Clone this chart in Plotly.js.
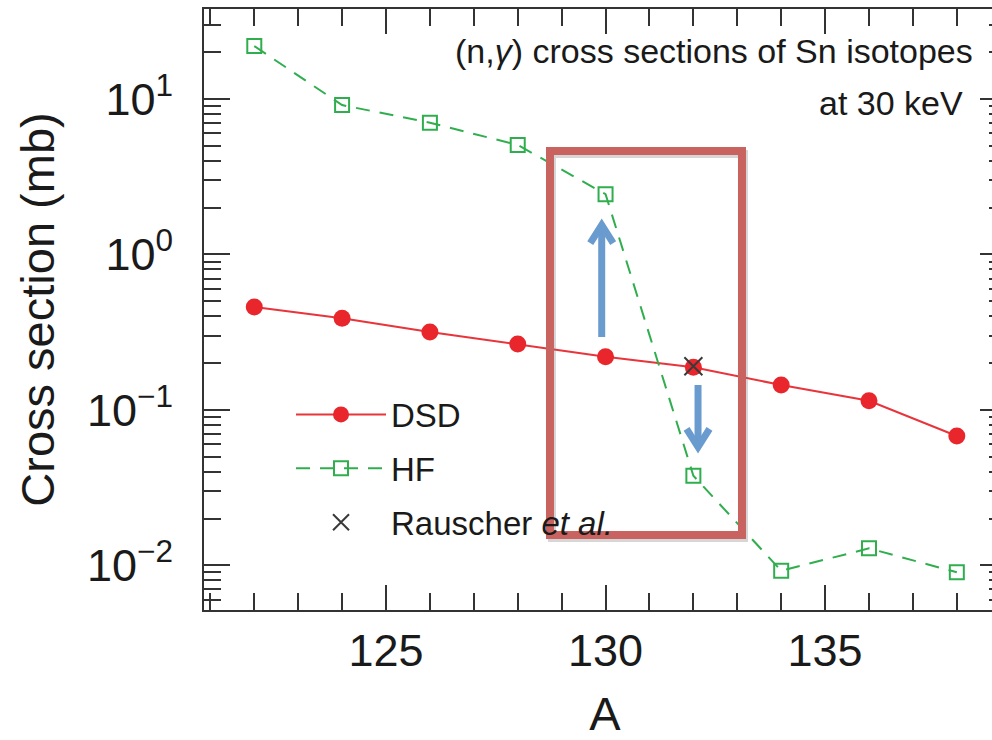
<!DOCTYPE html>
<html>
<head>
<meta charset="utf-8">
<script src="https://cdn.plot.ly/plotly-3.0.1.min.js"></script>
<style>
  html, body { margin: 0; padding: 0; overflow: hidden; background: #fff; }
  #chart { width: 1010px; height: 740px; }
</style>
</head>
<body>
<div id="chart"></div>
<script>
// ---- data ----
const massNumbers = [122, 124, 126, 128, 130, 132, 134, 136, 138];
const dsdValues   = [0.459, 0.388, 0.317, 0.265, 0.220, 0.188, 0.1445, 0.1145, 0.0679];
const hfValues    = [21.9, 9.14, 7.04, 5.06, 2.44, 0.0377, 0.00923, 0.01285, 0.00901];
const rauscherA   = [132];
const rauscherValues = [0.191];
const yTickValues = [0.01, 0.1, 1, 10];
const yTickLabels = ['10<sup>−2</sup>', '10<sup>−1</sup>', '10<sup>0</sup>', '10<sup>1</sup>'];
const xTickValues = [125, 130, 135];
const xTickLabels = ['125', '130', '135'];

const FONT = '"Liberation Sans", Arial, Helvetica, sans-serif';
const AXIS = '#333333';
const GREEN = '#30ae4e';
const BLUE = '#6a9bcf';

const traces = [
  {
    x: massNumbers, y: dsdValues, name: 'DSD', type: 'scatter', mode: 'lines+markers',
    line: { color: '#e8343a', width: 2 },
    marker: { color: '#e8262c', size: 17, symbol: 'circle' },
    legendgroup: 'a', legendrank: 1
  },
  {
    x: massNumbers, y: hfValues, name: 'HF', type: 'scatter', mode: 'lines+markers',
    line: { color: GREEN, width: 2, dash: '14px,10px' },
    marker: { color: GREEN, size: 14, symbol: 'square-open', line: { color: GREEN, width: 2 } },
    legendgroup: 'b', legendrank: 2
  },
  {
    x: rauscherA, y: rauscherValues, name: 'Rauscher <i>et al.</i>', type: 'scatter', mode: 'markers',
    marker: { color: '#3a3a3a', size: 18, symbol: 'x-thin-open', line: { color: '#3a3a3a', width: 2 } },
    legendgroup: 'c', legendrank: 3
  }
];

// arrow helper in paper coordinates (decoration only)
function arrowShapes(x, tailY, tipY) {
  const dir = tipY > tailY ? 1 : -1;
  const hw = 0.0143, hl = 0.030;
  return [
    { type: 'line', xref: 'paper', yref: 'paper', x0: x, x1: x, y0: tailY, y1: tipY - dir * 0.004,
      line: { color: BLUE, width: 7 }, layer: 'above' },
    { type: 'path', xref: 'paper', yref: 'paper',
      path: 'M' + (x - hw) + ',' + (tipY - dir * hl) + ' L' + x + ',' + tipY + ' L' + (x + hw) + ',' + (tipY - dir * hl),
      line: { color: BLUE, width: 7 }, layer: 'above' }
  ];
}

const layout = {
  width: 1010, height: 740,
  margin: { l: 204, r: 4, t: 9, b: 130, pad: 0 },
  paper_bgcolor: '#ffffff', plot_bgcolor: '#ffffff',
  font: { family: FONT, color: '#1a1a1a', size: 33 },
  showlegend: true,
  legend: {
    x: 0.1085, xanchor: 'left', y: 0.372, yanchor: 'top',
    bgcolor: 'rgba(0,0,0,0)', borderwidth: 0,
    font: { family: FONT, size: 33, color: '#1a1a1a' },
    itemwidth: 90, tracegroupgap: 8, traceorder: 'grouped'
  },
  xaxis: {
    type: 'linear', range: [120.855, 139.12],
    showgrid: false, zeroline: false,
    showline: true, linecolor: AXIS, linewidth: 2, mirror: 'allticks',
    ticks: 'inside', ticklen: 25, tickwidth: 2, tickcolor: AXIS,
    tickmode: 'array', tickvals: xTickValues, ticktext: xTickLabels,
    tickfont: { family: FONT, size: 45, color: '#1a1a1a' },
    minor: { dtick: 1, tick0: 0, ticks: 'inside', ticklen: 17, tickwidth: 2, tickcolor: AXIS, showgrid: false },
    title: { text: 'A', font: { family: FONT, size: 47, color: '#1a1a1a' }, standoff: 42 }
  },
  yaxis: {
    type: 'log', range: [-2.2876, 1.579],
    showgrid: false, zeroline: false,
    showline: true, linecolor: AXIS, linewidth: 2, mirror: 'allticks',
    ticks: 'inside', ticklen: 26, tickwidth: 2, tickcolor: AXIS,
    tickmode: 'array', tickvals: yTickValues, ticktext: yTickLabels,
    tickfont: { family: FONT, size: 45, color: '#1a1a1a' },
    ticklabelstandoff: 20,
    minor: { dtick: 'D1', ticks: 'inside', ticklen: 17, tickwidth: 2, tickcolor: AXIS, showgrid: false },
    title: { text: 'Cross section (mb)', font: { family: FONT, size: 47, color: '#1a1a1a' }, standoff: 18 }
  },
  shapes: [
    { type: 'rect', xref: 'paper', yref: 'paper', x0: 0.4339, x1: 0.6733, y0: 0.1198, y1: 0.7587,
      line: { color: 'rgba(120,120,120,0.3)', width: 8 }, fillcolor: 'rgba(0,0,0,0)', layer: 'above' },
    { type: 'rect', xref: 'paper', yref: 'paper', x0: 0.4314, x1: 0.6708, y0: 0.1248, y1: 0.7637,
      line: { color: '#c9635f', width: 8 }, fillcolor: 'rgba(0,0,0,0)', layer: 'above' }
  ].concat(arrowShapes(0.4959, 0.4542, 0.6406), arrowShapes(0.6160, 0.3744, 0.2712)),
  annotations: [
    { xref: 'paper', yref: 'paper', x: 0.9613, y: 0.930, xanchor: 'right', yanchor: 'middle',
      text: '(n,<i>γ</i>) cross sections of Sn isotopes', showarrow: false,
      font: { family: FONT, size: 34, color: '#1a1a1a' } },
    { xref: 'paper', yref: 'paper', x: 0.9489, y: 0.8444, xanchor: 'right', yanchor: 'middle',
      text: 'at 30 keV', showarrow: false,
      font: { family: FONT, size: 34, color: '#1a1a1a' } }
  ]
};

Plotly.newPlot('chart', traces, layout, { displayModeBar: false, staticPlot: true });
</script>
</body>
</html>
